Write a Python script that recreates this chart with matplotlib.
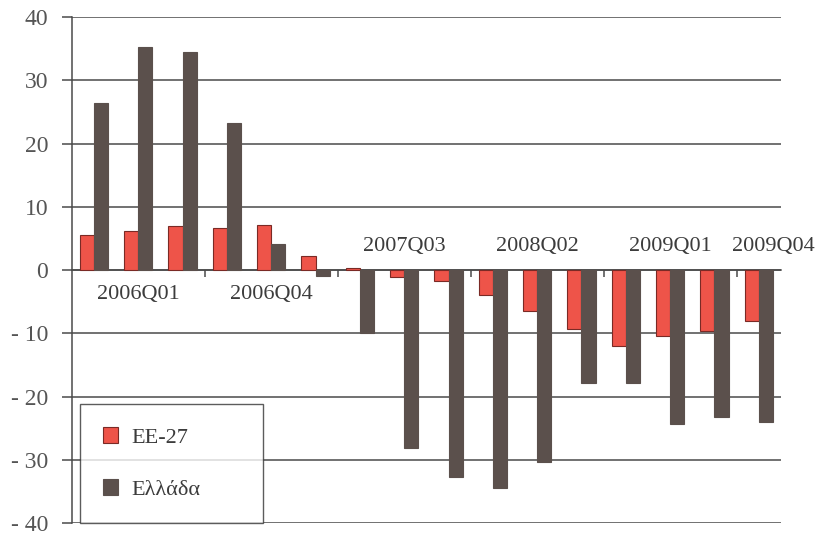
import matplotlib
matplotlib.use("Agg")
import matplotlib.pyplot as plt
import numpy as np

# Τριμηνιαίες μεταβολές (%), 2006Q01 - 2009Q04
quarters = ["2006Q01", "2006Q02", "2006Q03", "2006Q04",
            "2007Q01", "2007Q02", "2007Q03", "2007Q04",
            "2008Q01", "2008Q02", "2008Q03", "2008Q04",
            "2009Q01", "2009Q02", "2009Q03", "2009Q04"]
ee27 = [5.5, 6.2, 6.9, 6.6, 7.2, 2.2, 0.3, -1.1,
        -1.8, -3.9, -6.5, -9.4, -12.0, -10.4, -9.6, -8.0]
ellada = [26.5, 35.3, 34.5, 23.2, 4.1, -0.9, -9.9, -28.1,
          -32.8, -34.4, -30.4, -17.9, -17.9, -24.3, -23.2, -24.0]

# ετικέτες που φαίνονται στον άξονα (θέση, κείμενο, πάνω/κάτω από το μηδέν)
shown_labels = [(1, "2006Q01", -3.9), (4, "2006Q04", -3.9),
                (7, "2007Q03", 3.8), (10, "2008Q02", 3.8),
                (13, "2009Q01", 3.8)]
last_label = ("2009Q04", 3.8)
yticks = [40, 30, 20, 10, 0, -10, -20, -30, -40]
ytick_labels = ["40", "30", "20", "10", "0", "- 10", "- 20", "- 30", "- 40"]

red = "#ee5449"
dark = "#5b504c"
grid_col = "#4a4a4a"
text_col = "#3c3c3c"

plt.rcParams["font.family"] = ["Liberation Serif", "DejaVu Serif"]

fig = plt.figure(figsize=(8.16, 5.38), dpi=100)
ax = fig.add_axes([0.088, 0.028, 0.869, 0.94])

x = np.arange(len(quarters))
w = 0.32
ax.bar(x - w / 2, ee27, w, color=red, edgecolor="#7a2a25", linewidth=0.8,
       label="ΕΕ-27", zorder=3)
ax.bar(x + w / 2, ellada, w, color=dark, edgecolor=dark, linewidth=0.8,
       label="Ελλάδα", zorder=3)

ax.set_xlim(-0.5, 15.5)
ax.set_ylim(-40, 40)
ax.set_yticks(yticks)
ax.set_yticklabels(ytick_labels, fontsize=17, color="#555555")
ax.yaxis.grid(True, color=grid_col, linewidth=1.1, zorder=1)
ax.tick_params(axis="y", length=7, width=1.1, color=grid_col, pad=10)

# άξονας κατηγοριών πάνω στο μηδέν, με υποδιαιρέσεις ανά τρία τρίμηνα
ax.spines["bottom"].set_position(("data", 0))
ax.spines["bottom"].set_color(grid_col)
ax.spines["bottom"].set_linewidth(1.1)
ax.spines["left"].set_color(grid_col)
ax.spines["left"].set_linewidth(1.1)
for s in ("top", "right"):
    ax.spines[s].set_visible(False)
ax.set_xticks([2.5, 5.5, 8.5, 11.5, 14.5])
ax.set_xticklabels([])
ax.tick_params(axis="x", direction="out", length=5, width=1.1, color=grid_col)

for pos, lab, ypos in shown_labels:
    ax.text(pos, ypos, lab, ha="center", va="center", fontsize=16,
            color=text_col, zorder=4)
# η τελευταία ετικέτα κολλάει στη δεξιά άκρη
ax.annotate(last_label[0], xy=(0.998, last_label[1]),
            xycoords=("figure fraction", "data"), ha="right", va="center",
            fontsize=16, color=text_col, zorder=4)

leg = ax.legend(loc="lower left", bbox_to_anchor=(0.011, 0.0, 0.258, 0.2),
                mode="expand", fontsize=16, frameon=True, fancybox=False,
                edgecolor="#333333", borderpad=1.05, labelspacing=1.4,
                handlelength=0.7, handleheight=0.7, handletextpad=0.6,
                borderaxespad=0.0)
leg.get_frame().set_linewidth(1.0)
for t in leg.get_texts():
    t.set_color(text_col)

fig.savefig("out.png", dpi=100)
